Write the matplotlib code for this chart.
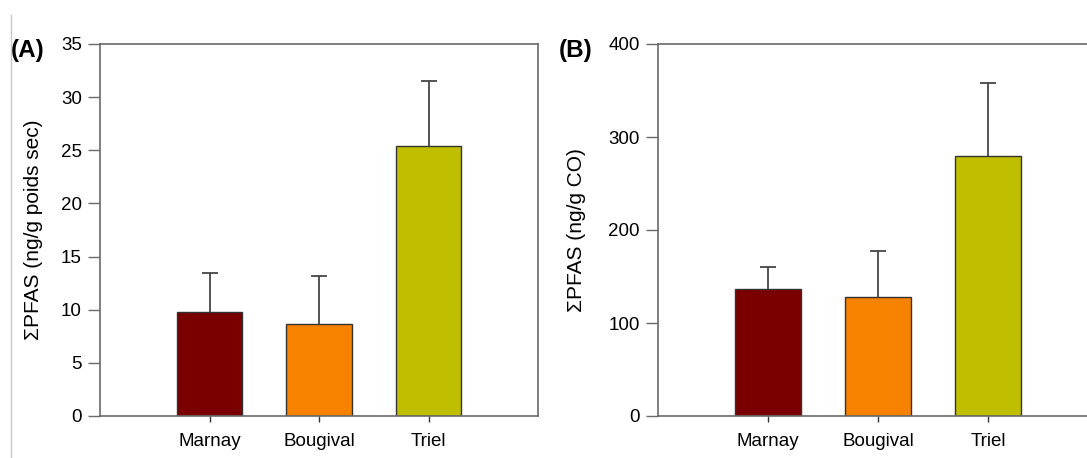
import matplotlib
matplotlib.use("Agg")
import matplotlib.pyplot as plt
import numpy as np
from matplotlib.lines import Line2D

plt.rcParams["font.family"] = ["Liberation Sans", "DejaVu Sans"]

# Data
SITES = ["Marnay", "Bougival", "Triel"]
COLORS = ["#7a0000", "#f78200", "#bfbf00"]

DRY_MEAN = [9.8, 8.7, 25.4]      # ng/g poids sec
DRY_SD = [3.7, 4.5, 6.1]

OC_MEAN = [137, 128, 280]        # ng/g CO
OC_SD = [23, 49, 78]

AXIS_GREY = "#6a6a6a"
ERR_GREY = "#454545"
W, H = 1087, 458


def draw_panel(ax, means, sds, ylim, step, ylabel, label_x):
    x = np.arange(len(SITES))
    ax.bar(x, means, width=0.6, color=COLORS, edgecolor="#333333",
           linewidth=1.0, zorder=2)
    # upper half only, no cap sitting on the bar top
    _, caps, _ = ax.errorbar(x, means, yerr=[np.zeros(len(sds)), sds],
                             fmt="none", ecolor=ERR_GREY, elinewidth=1.3,
                             capsize=6, capthick=1.3, zorder=3)
    caps[0].set_visible(False)
    ax.set_xlim(-1, 3)
    ax.set_ylim(0, ylim)
    ax.set_yticks(np.arange(0, ylim + step / 2, step))
    ax.set_xticks(x)
    ax.set_xticklabels(SITES)
    ax.tick_params(axis="y", length=9, width=1.0, color=AXIS_GREY,
                   labelsize=13.5, pad=4)
    ax.tick_params(axis="x", length=4, width=1.0, color="#333333",
                   labelsize=13.5, pad=8)
    for spine in ax.spines.values():
        spine.set_color(AXIS_GREY)
        spine.set_linewidth(1.2)
    ax.set_ylabel(ylabel, fontsize=15)
    ax.yaxis.set_label_coords(label_x, 0.5)


fig = plt.figure(figsize=(W / 100, H / 100), dpi=100)
fig.patch.set_facecolor("white")

bottom = (H - 416) / H
height = (416 - 44) / H

ax_a = fig.add_axes([100 / W, bottom, 438 / W, height])
draw_panel(ax_a, DRY_MEAN, DRY_SD, 35, 5, "ΣPFAS (ng/g poids sec)", -0.13)

# panel B runs past the right edge of the original image
ax_b = fig.add_axes([658 / W, bottom, 440 / W, height])
draw_panel(ax_b, OC_MEAN, OC_SD, 400, 100, "ΣPFAS (ng/g CO)", -0.163)

fig.text(11 / W, 1 - 51 / H, "(A)", fontsize=17.5, fontweight="bold",
         ha="left", va="center")
fig.text(559 / W, 1 - 51 / H, "(B)", fontsize=17.5, fontweight="bold",
         ha="left", va="center")

# faint page edge on the left of the scan
fig.add_artist(Line2D([11 / W, 11 / W], [0, 1 - 15 / H],
                      transform=fig.transFigure, color="#c8c8c8", linewidth=1))

fig.savefig("out.png", dpi=100, facecolor="white")
